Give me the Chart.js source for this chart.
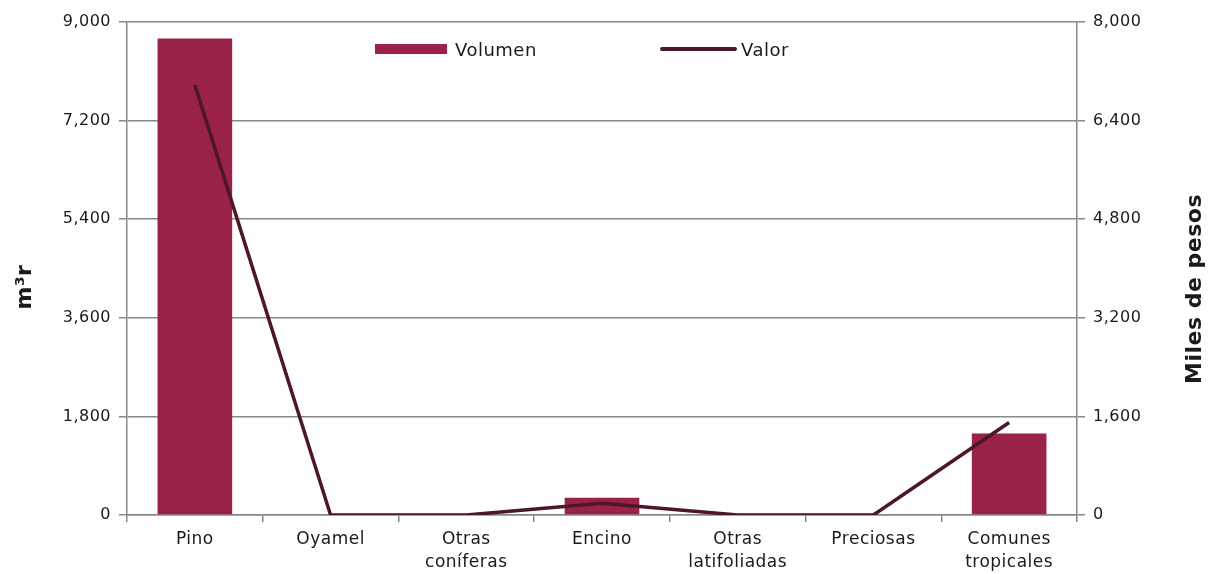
<!DOCTYPE html>
<html lang="es">
<head>
<meta charset="utf-8">
<title>Volumen y valor por grupo de especies</title>
<script src="https://cdn.jsdelivr.net/npm/chart.js@4/dist/chart.umd.min.js"></script>
<style>
  html, body { margin: 0; padding: 0; background: #fff; }
  #wrap { position: relative; width: 1214px; height: 574px; }
  #legend { position: absolute; top: 38px; left: 0; width: 1214px; height: 22px;
    font: 18px "DejaVu Sans", sans-serif; letter-spacing: 0.5px; color: #1a1a1a; }
  .item { position: absolute; top: 0; display: flex; align-items: center; height: 22px; }
  .sw { display: inline-block; margin-right: 8px; }
</style>
</head>
<body>
<div id="wrap">
  <canvas id="chart" width="1214" height="574"></canvas>
  <div id="legend"></div>
</div>
<script>
// data
const categories = ['Pino', 'Oyamel', ['Otras', 'coníferas'], 'Encino', ['Otras', 'latifoliadas'], 'Preciosas', ['Comunes', 'tropicales']];
const volumen = [8700, 0, 0, 316, 0, 0, 1490];   // m3r, left axis
const valor = [6980, 0, 0, 190, 0, 0, 1500];     // miles de pesos, right axis
const leftTicks = { min: 0, max: 9000, step: 1800 };
const rightTicks = { min: 0, max: 8000, step: 1600 };

const BAR = '#9b2247';
const LINE = '#4c1727';
const GRID = '#888';
const TEXT = '#1a1a1a';
const FONT = '"DejaVu Sans", sans-serif';

// axis titles drawn by hand (right one reads bottom→top)
const axisTitles = {
  id: 'axisTitles',
  beforeDraw(chart) { chart.ctx.letterSpacing = '0.5px'; },
  afterDraw(chart) {
    const { ctx } = chart;
    const draw = (text, x, y) => {
      ctx.save();
      ctx.fillStyle = TEXT;
      ctx.textAlign = 'center';
      ctx.textBaseline = 'middle';
      ctx.font = `bold 22px ${FONT}`;
      ctx.translate(x, y);
      ctx.rotate(-Math.PI / 2);
      ctx.fillText(text, 0, 0);
      ctx.restore();
    };
    draw('m³r', 25, 287);
    draw('Miles de pesos', 1195, 289);
  }
};

const chart = new Chart(document.getElementById('chart'), {
  data: {
    labels: categories,
    datasets: [
      {
        type: 'line',
        label: 'Valor',
        data: valor,
        yAxisID: 'y1',
        borderColor: LINE,
        backgroundColor: LINE,
        borderWidth: 3.5,
        borderJoinStyle: 'bevel',
        pointRadius: 0,
        tension: 0,
        order: 0
      },
      {
        type: 'bar',
        label: 'Volumen',
        data: volumen,
        yAxisID: 'y',
        backgroundColor: BAR,
        categoryPercentage: 1,
        barPercentage: 0.55,
        order: 1
      }
    ]
  },
  options: {
    responsive: false,
    animation: false,
    locale: 'en-US',
    layout: { padding: { top: 22, left: 0, right: 0, bottom: 0 } },
    plugins: {
      legend: { display: false },
      tooltip: { enabled: false }
    },
    scales: {
      x: {
        grid: { offset: true, drawOnChartArea: false, tickLength: 7, color: GRID, lineWidth: 1.5 },
        border: { color: GRID, width: 1.5 },
        ticks: { color: TEXT, font: { family: FONT, size: 17, lineHeight: 1.35 }, maxRotation: 0, padding: 6 },
        afterFit: s => { s.height = 59; }
      },
      y: {
        position: 'left',
        min: leftTicks.min,
        max: leftTicks.max,
        ticks: { stepSize: leftTicks.step, color: TEXT, font: { family: FONT, size: 16 }, padding: 8 },
        grid: { color: GRID, lineWidth: 1.5, tickLength: 8 },
        border: { color: GRID, width: 1.5 },
        afterFit: s => { s.width = 127; }
      },
      y1: {
        position: 'right',
        min: rightTicks.min,
        max: rightTicks.max,
        ticks: { stepSize: rightTicks.step, color: TEXT, font: { family: FONT, size: 16 }, padding: 8 },
        grid: { drawOnChartArea: false, color: GRID, lineWidth: 1.5, tickLength: 8 },
        border: { color: GRID, width: 1.5 },
        afterFit: s => { s.width = 137; }
      }
    }
  },
  plugins: [axisTitles]
});

// legend sits inside the plot, under the top gridline
const legendEl = document.getElementById('legend');
const legendPos = { Volumen: 375, Valor: 660 };
chart.data.datasets.slice().reverse().forEach(ds => {
  const item = document.createElement('div');
  item.className = 'item';
  item.style.left = legendPos[ds.label] + 'px';
  const sw = document.createElement('span');
  sw.className = 'sw';
  if (ds.type === 'bar') {
    sw.style.cssText = `width:72px;height:10px;background:${ds.backgroundColor}`;
  } else {
    sw.style.cssText = `width:77px;height:4px;border-radius:2px;background:${ds.borderColor};margin-right:4px`;
  }
  item.appendChild(sw);
  item.appendChild(document.createTextNode(ds.label));
  legendEl.appendChild(item);
});
</script>
</body>
</html>
